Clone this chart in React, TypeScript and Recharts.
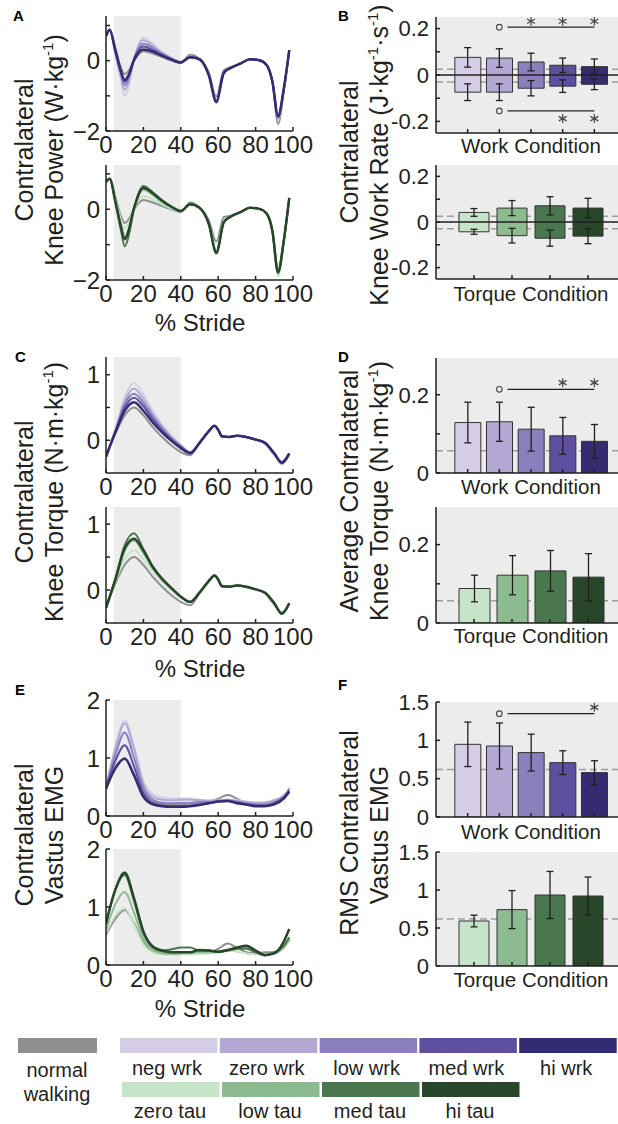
import React from "react";
import {
  LineChart,
  Line,
  XAxis,
  YAxis,
  ReferenceArea,
  ReferenceLine,
  ComposedChart,
  Bar,
  Cell,
  ErrorBar,
  Scatter,
  CartesianGrid,
} from "recharts";

const FONT = '"Liberation Sans", Arial, Helvetica, sans-serif';
const INK = "#231f20";
const GREY = "#8f8f92";
const SHADE = "#ececec";
const WORK_COLORS = ["#d5cce6", "#b3a7d3", "#8b7fbd", "#5e4fa0", "#342c70"];
const TORQUE_COLORS = ["#c6e4c8", "#8cbb8f", "#4a774e", "#284629"];

const WORK_LABELS = ["neg wrk", "zero wrk", "low wrk", "med wrk", "hi wrk"];
const TORQUE_LABELS = ["zero tau", "low tau", "med tau", "hi tau"];

// ---- A: knee power (% stride) ----
const A_X = [0, 2, 5, 8, 10, 12, 15, 20, 25, 30, 35, 40, 45, 50, 55, 59, 63, 67, 72, 77, 82, 86, 89, 92, 95, 98];
const A_WORK_NORMAL = [0.72, 0.85, 0.35, -0.2, -0.38, -0.3, 0.0, 0.27, 0.2, 0.1, 0.0, -0.07, 0.17, 0.05, -0.33, -1.02, -0.27, -0.18, -0.08, 0.04, 0.01, -0.13, -0.6, -1.8, -0.9, 0.3];
const A_WORK_NEG = [0.7, 0.86, 0.18, -0.55, -1.0, -0.75, 0.05, 0.66, 0.47, 0.25, 0.08, -0.04, 0.1, 0.04, -0.4, -1.13, -0.33, -0.2, -0.08, 0.04, 0.01, -0.13, -0.6, -1.68, -0.88, 0.3];
const A_WORK_ZERO = [0.7, 0.86, 0.22, -0.45, -0.83, -0.62, 0.06, 0.58, 0.42, 0.22, 0.07, -0.04, 0.1, 0.04, -0.4, -1.14, -0.33, -0.2, -0.08, 0.04, 0.01, -0.13, -0.6, -1.64, -0.86, 0.3];
const A_WORK_LOW = [0.7, 0.87, 0.25, -0.38, -0.7, -0.52, 0.06, 0.48, 0.36, 0.19, 0.06, -0.05, 0.1, 0.04, -0.4, -1.15, -0.34, -0.2, -0.08, 0.04, 0.01, -0.13, -0.6, -1.62, -0.85, 0.3];
const A_WORK_MED = [0.7, 0.88, 0.28, -0.33, -0.6, -0.45, 0.04, 0.4, 0.3, 0.16, 0.04, -0.05, 0.1, 0.04, -0.41, -1.16, -0.34, -0.2, -0.08, 0.04, 0.01, -0.13, -0.6, -1.6, -0.84, 0.3];
const A_WORK_HI = [0.7, 0.88, 0.3, -0.3, -0.55, -0.42, 0.02, 0.32, 0.26, 0.14, 0.03, -0.05, 0.1, 0.04, -0.42, -1.18, -0.35, -0.2, -0.08, 0.04, 0.01, -0.13, -0.6, -1.58, -0.82, 0.3];
const A_TQ_NORMAL = [0.75, 0.84, 0.35, -0.2, -0.39, -0.3, 0.0, 0.26, 0.19, 0.09, 0.0, -0.08, 0.19, 0.05, -0.31, -0.92, -0.22, -0.18, -0.08, 0.04, 0.01, -0.13, -0.6, -1.72, -0.9, 0.3];
const A_TQ_ZERO = [0.75, 0.85, 0.3, -0.3, -0.55, -0.42, 0.02, 0.37, 0.28, 0.14, 0.02, -0.06, 0.15, 0.04, -0.4, -1.15, -0.35, -0.2, -0.08, 0.04, 0.01, -0.13, -0.65, -1.9, -0.95, 0.3];
const A_TQ_LOW = [0.76, 0.86, 0.25, -0.45, -0.8, -0.6, 0.03, 0.55, 0.4, 0.2, 0.05, -0.05, 0.14, 0.04, -0.41, -1.2, -0.36, -0.2, -0.08, 0.04, 0.01, -0.13, -0.63, -1.82, -0.93, 0.32];
const A_TQ_MED = [0.78, 0.86, 0.2, -0.6, -1.05, -0.78, 0.02, 0.66, 0.48, 0.25, 0.07, -0.05, 0.14, 0.04, -0.42, -1.22, -0.36, -0.2, -0.08, 0.04, 0.01, -0.13, -0.62, -1.78, -0.92, 0.32];
const A_TQ_HI = [0.78, 0.86, 0.22, -0.5, -0.85, -0.62, 0.03, 0.6, 0.45, 0.24, 0.07, -0.05, 0.14, 0.04, -0.42, -1.24, -0.37, -0.2, -0.08, 0.04, 0.01, -0.13, -0.62, -1.78, -0.92, 0.32];

// ---- C: knee torque (% stride) ----
const C_X = [0, 5, 10, 15, 20, 25, 30, 35, 40, 45, 50, 55, 58, 60, 62, 66, 70, 75, 80, 85, 90, 94, 98];
const C_WORK_NORMAL = [-0.25, 0.1, 0.38, 0.5, 0.38, 0.2, 0.05, -0.08, -0.18, -0.23, -0.05, 0.13, 0.22, 0.15, 0.05, 0.05, 0.07, 0.05, 0.01, -0.05, -0.22, -0.33, -0.2];
const C_WORK_NEG = [-0.25, 0.16, 0.66, 0.87, 0.7, 0.45, 0.24, 0.07, -0.07, -0.18, -0.04, 0.14, 0.22, 0.16, 0.06, 0.05, 0.07, 0.05, 0.01, -0.04, -0.21, -0.37, -0.22];
const C_WORK_ZERO = [-0.25, 0.15, 0.6, 0.79, 0.63, 0.4, 0.21, 0.05, -0.08, -0.18, -0.04, 0.14, 0.22, 0.16, 0.06, 0.05, 0.07, 0.05, 0.01, -0.04, -0.21, -0.36, -0.22];
const C_WORK_LOW = [-0.25, 0.14, 0.55, 0.71, 0.57, 0.36, 0.18, 0.03, -0.09, -0.19, -0.04, 0.14, 0.22, 0.16, 0.06, 0.05, 0.07, 0.05, 0.01, -0.04, -0.21, -0.35, -0.21];
const C_WORK_MED = [-0.25, 0.13, 0.5, 0.65, 0.52, 0.32, 0.15, 0.01, -0.1, -0.19, -0.04, 0.14, 0.22, 0.16, 0.06, 0.05, 0.07, 0.05, 0.01, -0.04, -0.2, -0.35, -0.21];
const C_WORK_HI = [-0.25, 0.12, 0.45, 0.58, 0.45, 0.27, 0.12, -0.01, -0.12, -0.2, -0.04, 0.14, 0.22, 0.16, 0.06, 0.05, 0.07, 0.05, 0.01, -0.04, -0.2, -0.34, -0.2];
const C_TQ_NORMAL = [-0.27, 0.1, 0.38, 0.5, 0.38, 0.2, 0.05, -0.08, -0.18, -0.23, -0.05, 0.13, 0.22, 0.15, 0.05, 0.05, 0.07, 0.05, 0.01, -0.05, -0.22, -0.34, -0.2];
const C_TQ_ZERO = [-0.27, 0.13, 0.47, 0.6, 0.47, 0.28, 0.12, 0.0, -0.11, -0.18, -0.04, 0.14, 0.22, 0.16, 0.06, 0.05, 0.07, 0.05, 0.01, -0.04, -0.2, -0.36, -0.2];
const C_TQ_LOW = [-0.27, 0.15, 0.6, 0.75, 0.56, 0.33, 0.16, 0.02, -0.1, -0.18, -0.04, 0.14, 0.22, 0.16, 0.06, 0.05, 0.07, 0.05, 0.01, -0.04, -0.2, -0.36, -0.2];
const C_TQ_MED = [-0.27, 0.17, 0.68, 0.86, 0.62, 0.36, 0.17, 0.03, -0.1, -0.18, -0.04, 0.14, 0.22, 0.16, 0.06, 0.05, 0.07, 0.05, 0.01, -0.04, -0.2, -0.36, -0.2];
const C_TQ_HI = [-0.27, 0.16, 0.63, 0.78, 0.6, 0.35, 0.17, 0.03, -0.1, -0.18, -0.04, 0.14, 0.22, 0.16, 0.06, 0.05, 0.07, 0.05, 0.01, -0.04, -0.2, -0.36, -0.2];

// ---- E: vastus EMG (% stride) ----
const E_X = [0, 5, 10, 15, 20, 25, 30, 35, 40, 45, 50, 55, 60, 65, 70, 75, 80, 85, 90, 95, 98];
const E_WORK_NORMAL = [0.52, 0.85, 0.98, 0.72, 0.4, 0.25, 0.21, 0.2, 0.2, 0.22, 0.23, 0.25, 0.3, 0.36, 0.3, 0.22, 0.2, 0.2, 0.24, 0.33, 0.48];
const E_WORK_NEG = [0.5, 1.2, 1.65, 1.2, 0.6, 0.38, 0.32, 0.3, 0.3, 0.3, 0.28, 0.27, 0.27, 0.28, 0.27, 0.25, 0.24, 0.24, 0.28, 0.35, 0.45];
const E_WORK_ZERO = [0.5, 1.15, 1.6, 1.15, 0.55, 0.33, 0.28, 0.27, 0.28, 0.28, 0.27, 0.26, 0.27, 0.28, 0.26, 0.24, 0.22, 0.23, 0.27, 0.35, 0.46];
const E_WORK_LOW = [0.49, 1.05, 1.44, 1.0, 0.48, 0.28, 0.23, 0.22, 0.23, 0.23, 0.24, 0.24, 0.26, 0.27, 0.25, 0.22, 0.2, 0.2, 0.24, 0.33, 0.45];
const E_WORK_MED = [0.48, 0.95, 1.22, 0.85, 0.4, 0.22, 0.18, 0.17, 0.17, 0.18, 0.2, 0.22, 0.25, 0.26, 0.23, 0.2, 0.18, 0.18, 0.22, 0.32, 0.44];
const E_WORK_HI = [0.47, 0.82, 0.99, 0.7, 0.33, 0.2, 0.17, 0.16, 0.16, 0.17, 0.19, 0.22, 0.25, 0.26, 0.22, 0.2, 0.17, 0.17, 0.2, 0.3, 0.42];
const E_TQ_NORMAL = [0.52, 0.8, 0.95, 0.72, 0.4, 0.25, 0.22, 0.2, 0.2, 0.2, 0.22, 0.22, 0.28, 0.37, 0.3, 0.22, 0.2, 0.22, 0.22, 0.3, 0.45];
const E_TQ_ZERO = [0.55, 0.85, 0.98, 0.7, 0.35, 0.22, 0.19, 0.18, 0.18, 0.18, 0.19, 0.2, 0.22, 0.25, 0.23, 0.2, 0.18, 0.18, 0.2, 0.3, 0.42];
const E_TQ_LOW = [0.6, 1.05, 1.26, 0.9, 0.45, 0.25, 0.2, 0.19, 0.2, 0.22, 0.22, 0.22, 0.23, 0.25, 0.27, 0.3, 0.25, 0.18, 0.2, 0.3, 0.45];
const E_TQ_MED = [0.7, 1.3, 1.55, 1.1, 0.55, 0.3, 0.25, 0.27, 0.3, 0.3, 0.25, 0.25, 0.22, 0.25, 0.28, 0.28, 0.22, 0.17, 0.22, 0.33, 0.48];
const E_TQ_HI = [0.72, 1.3, 1.59, 1.15, 0.58, 0.32, 0.25, 0.22, 0.22, 0.22, 0.26, 0.25, 0.23, 0.26, 0.3, 0.33, 0.25, 0.17, 0.2, 0.4, 0.62];

// ---- B: knee work rate (positive / negative parts, mean and SD) ----
const WORK_X = [1, 2, 3, 4, 5];
const TORQUE_X = [1, 2, 3, 4];
const B_WORK_POS = [0.076, 0.073, 0.056, 0.042, 0.036];
const B_WORK_POS_SD = [0.042, 0.04, 0.038, 0.031, 0.033];
const B_WORK_NEG = [-0.074, -0.074, -0.057, -0.048, -0.04];
const B_WORK_NEG_SD = [0.036, 0.036, 0.033, 0.027, 0.023];
const B_TQ_POS = [0.042, 0.061, 0.071, 0.061];
const B_TQ_POS_SD = [0.017, 0.033, 0.04, 0.043];
const B_TQ_NEG = [-0.043, -0.06, -0.071, -0.062];
const B_TQ_NEG_SD = [0.011, 0.032, 0.035, 0.033];
const B_NORMAL = [0.025, -0.03];
const B_SIG_TOP_STARS = [3, 4, 5];
const B_SIG_BOTTOM_STARS = [4, 5];

// ---- D: average knee torque ----
const D_WORK = [0.129, 0.131, 0.112, 0.095, 0.081];
const D_WORK_SD = [0.052, 0.05, 0.056, 0.047, 0.043];
const D_TQ = [0.088, 0.122, 0.133, 0.117];
const D_TQ_SD = [0.034, 0.05, 0.052, 0.06];
const D_NORMAL = [0.057];
const D_SIG_STARS = [4, 5];

// ---- F: RMS vastus EMG ----
const F_WORK = [0.948, 0.926, 0.84, 0.709, 0.579];
const F_WORK_SD = [0.29, 0.3, 0.24, 0.155, 0.155];
const F_TQ = [0.592, 0.742, 0.934, 0.921];
const F_TQ_SD = [0.077, 0.25, 0.31, 0.25];
const F_NORMAL = [0.62];
const F_SIG_STARS = [5];

const STRIDE_TICKS = [0, 20, 40, 60, 80, 100];
const minus = (v: number) => (v < 0 ? "\u2212" + Math.abs(v) : String(v));

function buildRows(xs: number[], normal: number[], groups: number[][]) {
  return xs.map((x, i) => {
    const r: any = { x, normal: normal[i] };
    groups.forEach((g, k) => (r["s" + k] = g[i]));
    return r;
  });
}

function LinePanel({ top, height, domain, ticks, labeled, xs, normal, groups, colors }: any) {
  const rows = buildRows(xs, normal, groups);
  const MT = 18;
  const XH = 34;
  return (
    <div style={{ position: "absolute", left: 0, top: top - MT }}>
      <LineChart
        width={56 + 50 + 187 + 25}
        height={MT + height + XH}
        data={rows}
        margin={{ top: MT, right: 25, left: 56, bottom: 0 }}
      >
        <ReferenceArea x1={4} x2={40} y1={domain[0]} y2={domain[1]} fill={SHADE} fillOpacity={1} stroke="none" />
        <XAxis
          dataKey="x"
          type="number"
          domain={[0, 100]}
          ticks={STRIDE_TICKS}
          interval={0}
          height={XH}
          stroke={INK}
          strokeWidth={1.5}
          tickSize={-4}
          tickMargin={9}
          tick={{ fontSize: 24, fill: INK, fontFamily: FONT }}
          allowDataOverflow
        />
        <YAxis
          type="number"
          domain={domain}
          ticks={ticks}
          interval={0}
          width={50}
          stroke={INK}
          strokeWidth={1.5}
          tickSize={-4}
          tickMargin={10}
          tick={{ fontSize: 24, fill: INK, fontFamily: FONT }}
          tickFormatter={(v: number) => (labeled.includes(v) ? minus(v) : "")}
          allowDataOverflow
        />
        <Line dataKey="normal" type="monotone" stroke={GREY} strokeWidth={2} dot={false} isAnimationActive={false} />
        {groups.map((_: any, k: number) => (
          <Line
            key={k}
            dataKey={"s" + k}
            type="monotone"
            stroke={colors[k]}
            strokeWidth={k === groups.length - 1 ? 2.5 : 2}
            dot={false}
            isAnimationActive={false}
          />
        ))}
      </LineChart>
    </div>
  );
}

const NoDot = () => <g />;
const OpenMark = (p: any) => <circle cx={p.cx} cy={p.cy} r={2.8} fill="none" stroke="#444" strokeWidth={1.1} />;
const StarMark = (p: any) => {
  const r = 4.5;
  return (
    <g stroke="#444" strokeWidth={1.2}>
      <line x1={p.cx} y1={p.cy - r} x2={p.cx} y2={p.cy + r} />
      <line x1={p.cx - r * 0.87} y1={p.cy - r * 0.5} x2={p.cx + r * 0.87} y2={p.cy + r * 0.5} />
      <line x1={p.cx - r * 0.87} y1={p.cy + r * 0.5} x2={p.cx + r * 0.87} y2={p.cy - r * 0.5} />
    </g>
  );
};

// normal-walking levels are drawn as dashed grid lines, so the bars sit on top of them
function BarFrame({ top, height, domain, xMax, xTicks, yTicks, yFmt, normals, data, children }: any) {
  const MT = 16;
  const XH = 16;
  return (
    <div style={{ position: "absolute", left: 310, top: top - MT }}>
      <ComposedChart
        width={66 + 60 + 190 + 10}
        height={MT + height + XH}
        data={data}
        margin={{ top: MT, right: 10, left: 66, bottom: 0 }}
      >
        <CartesianGrid
          fill={SHADE}
          fillOpacity={1}
          vertical={false}
          horizontal
          horizontalValues={normals}
          stroke="#9d9d9d"
          strokeWidth={1.5}
          strokeDasharray="7 4"
        />
        <XAxis
          dataKey="x"
          type="number"
          domain={[0, xMax]}
          ticks={xTicks}
          interval={0}
          height={XH}
          stroke={INK}
          strokeWidth={1.5}
          tickSize={-4}
          tickFormatter={() => ""}
          allowDataOverflow
        />
        <YAxis
          type="number"
          domain={domain}
          ticks={yTicks}
          interval={0}
          width={60}
          stroke={INK}
          strokeWidth={1.5}
          tickSize={-4}
          tickMargin={11}
          tick={{ fontSize: 22, fill: INK, fontFamily: FONT }}
          tickFormatter={yFmt}
          allowDataOverflow
        />
        {children}
      </ComposedChart>
    </div>
  );
}

function SigMarks({ y, starY, stars, k }: any) {
  return [
    <ReferenceLine
      key={k + "l"}
      segment={[
        { x: 2.26, y },
        { x: 5, y },
      ]}
      stroke={INK}
      strokeWidth={1.2}
    />,
    <Scatter key={k + "o"} data={[{ x: 2, y }]} dataKey="y" shape={OpenMark} isAnimationActive={false} />,
    <Scatter
      key={k + "s"}
      data={stars.map((x: number) => ({ x, y: starY }))}
      dataKey="y"
      shape={StarMark}
      isAnimationActive={false}
    />,
  ];
}

function WorkRatePanel({ top, height, xs, pos, posSd, neg, negSd, colors, xMax, barSize, sig }: any) {
  const rows = xs.map((x: number, i: number) => ({ x, range: [neg[i], pos[i]] }));
  const upper = xs.map((x: number, i: number) => ({ x, y: pos[i], err: posSd[i] }));
  const lower = xs.map((x: number, i: number) => ({ x, y: neg[i], err: negSd[i] }));
  const fmt = (v: number) => (v === 0 ? "0" : Math.abs(v) === 0.2 ? String(v) : "");
  return (
    <BarFrame top={top} height={height} domain={[-0.25, 0.25]} xMax={xMax} xTicks={xs} yTicks={[-0.2, -0.1, 0, 0.1, 0.2]}
      yFmt={fmt} normals={B_NORMAL} data={rows}>
      <Bar dataKey="range" barSize={barSize} stroke="#333" strokeWidth={1} isAnimationActive={false}>
        {xs.map((_: any, i: number) => (
          <Cell key={i} fill={colors[i]} />
        ))}
      </Bar>
      <ReferenceLine y={0} stroke={INK} strokeWidth={1.5} />
      <Scatter data={upper} dataKey="y" shape={NoDot} isAnimationActive={false}>
        <ErrorBar dataKey="err" direction="y" width={3.5} stroke={INK} strokeWidth={1.3} />
      </Scatter>
      <Scatter data={lower} dataKey="y" shape={NoDot} isAnimationActive={false}>
        <ErrorBar dataKey="err" direction="y" width={3.5} stroke={INK} strokeWidth={1.3} />
      </Scatter>
      {sig && SigMarks({ y: 0.206, starY: 0.232, stars: B_SIG_TOP_STARS, k: "t" })}
      {sig && SigMarks({ y: -0.155, starY: -0.188, stars: B_SIG_BOTTOM_STARS, k: "b" })}
    </BarFrame>
  );
}

function MeanPanel({ top, height, domain, yTicks, yFmt, xs, vals, sds, normal, colors, xMax, barSize, sig }: any) {
  const rows = xs.map((x: number, i: number) => ({ x, v: vals[i], sd: sds[i] }));
  return (
    <BarFrame top={top} height={height} domain={domain} xMax={xMax} xTicks={xs} yTicks={yTicks} yFmt={yFmt}
      normals={normal} data={rows}>
      <Bar dataKey="v" barSize={barSize} stroke="#333" strokeWidth={1} isAnimationActive={false}>
        {xs.map((_: any, i: number) => (
          <Cell key={i} fill={colors[i]} />
        ))}
        <ErrorBar dataKey="sd" direction="y" width={3.5} stroke={INK} strokeWidth={1.3} />
      </Bar>
      {sig && SigMarks({ ...sig, k: "s" })}
    </BarFrame>
  );
}

function RotLabel({ x, y, children }: any) {
  return (
    <text transform={`translate(${x},${y}) rotate(-90)`} textAnchor="middle" fontSize={25} fill={INK}>
      {children}
    </text>
  );
}

function Overlay() {
  const letter = (t: string, x: number, y: number) => (
    <text x={x} y={y} fontSize={15} fontWeight="bold" fill="#000">
      {t}
    </text>
  );
  const center = (t: string, x: number, y: number, size: number) => (
    <text x={x} y={y} fontSize={size} fill={INK} textAnchor="middle" dominantBaseline="central">
      {t}
    </text>
  );
  const workStart = 120;
  const tqStart = 122;
  return (
    <svg width={618} height={1124} style={{ position: "absolute", left: 0, top: 0, pointerEvents: "none" }} fontFamily={FONT}>
      {letter("A", 13, 21)}
      {letter("B", 338, 21)}
      {letter("C", 15, 362)}
      {letter("D", 338, 362)}
      {letter("E", 15, 695)}
      {letter("F", 338, 690)}

      <RotLabel x={33} y={150}>Contralateral</RotLabel>
      <RotLabel x={63} y={150}>
        Knee Power (W·kg<tspan fontSize={15} dy={-10}>-1</tspan>
        <tspan dy={10}>)</tspan>
      </RotLabel>
      <RotLabel x={33} y={492}>Contralateral</RotLabel>
      <RotLabel x={63} y={492}>
        Knee Torque (N·m·kg<tspan fontSize={15} dy={-10}>-1</tspan>
        <tspan dy={10}>)</tspan>
      </RotLabel>
      <RotLabel x={33} y={835}>Contralateral</RotLabel>
      <RotLabel x={63} y={835}>Vastus EMG</RotLabel>

      <RotLabel x={358} y={152}>Contralateral</RotLabel>
      <RotLabel x={388} y={155}>
        Knee Work Rate (J·kg<tspan fontSize={15} dy={-10}>-1</tspan>
        <tspan dy={10}>·s</tspan>
        <tspan fontSize={15} dy={-10}>-1</tspan>
        <tspan dy={10}>)</tspan>
      </RotLabel>
      <RotLabel x={358} y={491}>Average Contralateral</RotLabel>
      <RotLabel x={388} y={491}>
        Knee Torque (N·m·kg<tspan fontSize={15} dy={-10}>-1</tspan>
        <tspan dy={10}>)</tspan>
      </RotLabel>
      <RotLabel x={358} y={833}>RMS Contralateral</RotLabel>
      <RotLabel x={388} y={835}>Vastus EMG</RotLabel>

      {center("% Stride", 200, 322, 24)}
      {center("% Stride", 200, 668, 24)}
      {center("% Stride", 200, 1008, 24)}
      {center("Work Condition", 531, 145, 20.5)}
      {center("Torque Condition", 531, 293, 20.5)}
      {center("Work Condition", 531, 486, 20.5)}
      {center("Torque Condition", 531, 635, 20.5)}
      {center("Work Condition", 531, 831, 20.5)}
      {center("Torque Condition", 531, 979, 20.5)}

      {/* legend */}
      <rect x={18} y={1038} width={79} height={15} fill={GREY} />
      {center("normal", 57, 1070, 20)}
      {center("walking", 57, 1094, 20)}
      {WORK_LABELS.map((t, i) => (
        <g key={t}>
          <rect x={workStart + i * 99.8} y={1038} width={97.5} height={15} fill={WORK_COLORS[i]} />
          {center(t, workStart + i * 99.8 + 47, 1068, 20)}
        </g>
      ))}
      {TORQUE_LABELS.map((t, i) => (
        <g key={t}>
          <rect x={tqStart + i * 100} y={1082} width={97.5} height={15} fill={TORQUE_COLORS[i]} />
          {center(t, tqStart + i * 100 + 48, 1111, 20)}
        </g>
      ))}
    </svg>
  );
}

export default function App() {
  const emgFmt = (v: number) => String(v);
  const dFmt = (v: number) => (v === 0 ? "0" : v === 0.2 ? "0.2" : "");
  return (
    <div
      style={{
        position: "fixed",
        left: 0,
        top: 0,
        width: 618,
        height: 1124,
        overflow: "hidden",
        background: "#fff",
        fontFamily: FONT,
      }}
    >
      <LinePanel top={16} height={115} domain={[-2, 1.27]} ticks={[-2, -1, 0, 1]} labeled={[-2, 0]} xs={A_X}
        normal={A_WORK_NORMAL} groups={[A_WORK_NEG, A_WORK_ZERO, A_WORK_LOW, A_WORK_MED, A_WORK_HI]} colors={WORK_COLORS} />
      <LinePanel top={165} height={115} domain={[-2, 1.25]} ticks={[-2, -1, 0, 1]} labeled={[-2, 0]} xs={A_X}
        normal={A_TQ_NORMAL} groups={[A_TQ_ZERO, A_TQ_LOW, A_TQ_MED, A_TQ_HI]} colors={TORQUE_COLORS} />
      <LinePanel top={357} height={116} domain={[-0.5, 1.27]} ticks={[0, 0.5, 1]} labeled={[0, 1]} xs={C_X}
        normal={C_WORK_NORMAL} groups={[C_WORK_NEG, C_WORK_ZERO, C_WORK_LOW, C_WORK_MED, C_WORK_HI]} colors={WORK_COLORS} />
      <LinePanel top={507} height={116} domain={[-0.5, 1.26]} ticks={[0, 0.5, 1]} labeled={[0, 1]} xs={C_X}
        normal={C_TQ_NORMAL} groups={[C_TQ_ZERO, C_TQ_LOW, C_TQ_MED, C_TQ_HI]} colors={TORQUE_COLORS} />
      <LinePanel top={700} height={116} domain={[0, 2]} ticks={[0, 1, 2]} labeled={[0, 1, 2]} xs={E_X}
        normal={E_WORK_NORMAL} groups={[E_WORK_NEG, E_WORK_ZERO, E_WORK_LOW, E_WORK_MED, E_WORK_HI]} colors={WORK_COLORS} />
      <LinePanel top={849} height={116} domain={[0, 2]} ticks={[0, 1, 2]} labeled={[0, 1, 2]} xs={E_X}
        normal={E_TQ_NORMAL} groups={[E_TQ_ZERO, E_TQ_LOW, E_TQ_MED, E_TQ_HI]} colors={TORQUE_COLORS} />

      <WorkRatePanel top={17} height={116} xs={WORK_X} pos={B_WORK_POS} posSd={B_WORK_POS_SD} neg={B_WORK_NEG}
        negSd={B_WORK_NEG_SD} colors={WORK_COLORS} xMax={6} barSize={26} sig />
      <WorkRatePanel top={165} height={114} xs={TORQUE_X} pos={B_TQ_POS} posSd={B_TQ_POS_SD} neg={B_TQ_NEG}
        negSd={B_TQ_NEG_SD} colors={TORQUE_COLORS} xMax={5} barSize={30} />

      <MeanPanel top={358} height={115} domain={[0, 0.294]} yTicks={[0, 0.1, 0.2]} yFmt={dFmt} xs={WORK_X} vals={D_WORK}
        sds={D_WORK_SD} normal={D_NORMAL} colors={WORK_COLORS} xMax={6} barSize={26}
        sig={{ y: 0.214, starY: 0.231, stars: D_SIG_STARS }} />
      <MeanPanel top={507} height={116} domain={[0, 0.296]} yTicks={[0, 0.1, 0.2]} yFmt={dFmt} xs={TORQUE_X} vals={D_TQ}
        sds={D_TQ_SD} normal={D_NORMAL} colors={TORQUE_COLORS} xMax={5} barSize={31} />

      <MeanPanel top={702} height={115} domain={[0, 1.5]} yTicks={[0, 0.5, 1, 1.5]} yFmt={emgFmt} xs={WORK_X} vals={F_WORK}
        sds={F_WORK_SD} normal={F_NORMAL} colors={WORK_COLORS} xMax={6} barSize={26}
        sig={{ y: 1.348, starY: 1.43, stars: F_SIG_STARS }} />
      <MeanPanel top={852} height={114} domain={[0, 1.5]} yTicks={[0, 0.5, 1, 1.5]} yFmt={emgFmt} xs={TORQUE_X} vals={F_TQ}
        sds={F_TQ_SD} normal={F_NORMAL} colors={TORQUE_COLORS} xMax={5} barSize={30} />

      <Overlay />
    </div>
  );
}
